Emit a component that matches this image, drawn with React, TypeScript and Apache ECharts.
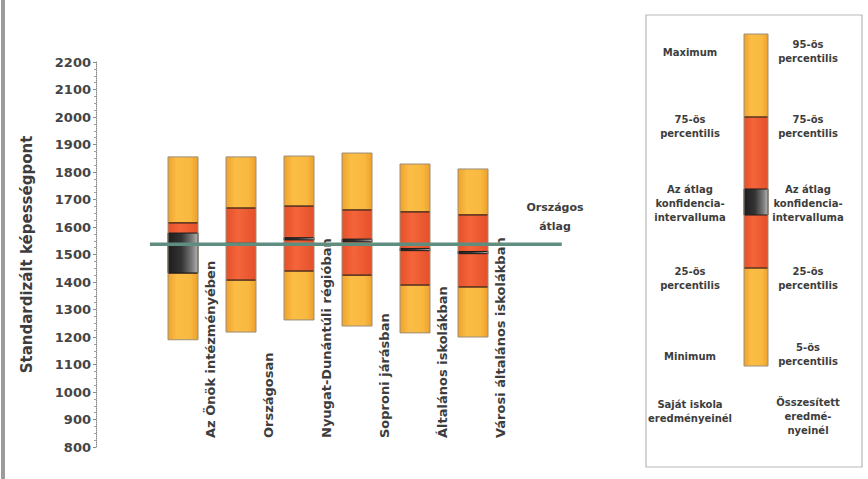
import React, { useEffect, useRef } from "react";
import * as echarts from "echarts";

// ---- data ----
const categories = [
  "Az Önök intézményében",
  "Országosan",
  "Nyugat-Dunántúli régióban",
  "Soproni járásban",
  "Általános iskolákban",
  "Városi általános iskolákban",
];
const lowValues = [1190, 1218, 1262, 1240, 1215, 1200]; // minimum / 5th percentile
const q1Values = [1433, 1407, 1440, 1425, 1389, 1382]; // 25th percentile
const q3Values = [1615, 1669, 1676, 1662, 1655, 1644]; // 75th percentile
const highValues = [1855, 1855, 1858, 1869, 1829, 1811]; // maximum / 95th percentile
const ciLowValues = [1433, 1533, 1553, 1546, 1514, 1503];
const ciHighValues = [1578, 1541, 1561, 1556, 1522, 1511];
const nationalAverage = 1537;
const averageLabel = "Országos\nátlag";
const yAxisName = "Standardizált képességpont";
const legendLeftLabels = [
  "Maximum",
  "75-ös\npercentilis",
  "Az átlag\nkonfidencia-\nintervalluma",
  "25-ös\npercentilis",
  "Minimum",
  "Saját iskola\neredményeinél",
];
const legendRightLabels = [
  "95-ös\npercentilis",
  "75-ös\npercentilis",
  "Az átlag\nkonfidencia-\nintervalluma",
  "25-ös\npercentilis",
  "5-ös\npercentilis",
  "Összesített\neredmé-\nnyeinél",
];

// ---- layout / style ----
const Y_MIN = 800;
const Y_MAX = 2200;
const FONT = "DejaVu Sans";
const TEXT_COLOR = "#3d3d3d";
const LINE_FROM = -0.57;
const LINE_TO = 6.53;
const BAR_W = 30;

const yellowGrad = () =>
  new echarts.graphic.LinearGradient(0, 0, 1, 0, [
    { offset: 0, color: "#efa22c" },
    { offset: 0.3, color: "#fbbd46" },
    { offset: 0.75, color: "#f9b940" },
    { offset: 1, color: "#eda02a" },
  ]);
const redGrad = () =>
  new echarts.graphic.LinearGradient(0, 0, 1, 0, [
    { offset: 0, color: "#e6502a" },
    { offset: 0.4, color: "#f4653a" },
    { offset: 1, color: "#e4502b" },
  ]);
const ciGrad = () =>
  new echarts.graphic.LinearGradient(0, 0, 1, 0, [
    { offset: 0, color: "#1e1e1e" },
    { offset: 0.45, color: "#333333" },
    { offset: 0.8, color: "#7a7a7a" },
    { offset: 1, color: "#b5b5b5" },
  ]);

export default function App() {
  const ref = useRef<HTMLDivElement>(null);

  useEffect(() => {
    if (!ref.current) return;
    const chart = echarts.init(ref.current, null, { renderer: "svg" });

    const boxData = categories.map((_, i) => [
      i,
      lowValues[i],
      q1Values[i],
      q3Values[i],
      highValues[i],
      ciLowValues[i],
      ciHighValues[i],
    ]);

    const renderItem = (params: any, api: any) => {
      const i = params.dataIndex;
      const x = api.value(0);
      const pLo = api.coord([x, api.value(1)]);
      const pQ1 = api.coord([x, api.value(2)]);
      const pQ3 = api.coord([x, api.value(3)]);
      const pHi = api.coord([x, api.value(4)]);
      const pCl = api.coord([x, api.value(5)]);
      const pCh = api.coord([x, api.value(6)]);
      const pBase = api.coord([x, Y_MIN]);
      const left = pLo[0] - BAR_W / 2;
      const ciH = Math.max(2, pCl[1] - pCh[1]);
      return {
        type: "group",
        children: [
          { type: "rect", shape: { x: left, y: pQ1[1], width: BAR_W, height: pLo[1] - pQ1[1] }, style: { fill: yellowGrad() } },
          { type: "rect", shape: { x: left, y: pQ3[1], width: BAR_W, height: pQ1[1] - pQ3[1] }, style: { fill: redGrad() } },
          { type: "rect", shape: { x: left, y: pHi[1], width: BAR_W, height: pQ3[1] - pHi[1] }, style: { fill: yellowGrad() } },
          { type: "line", shape: { x1: left, y1: pQ3[1], x2: left + BAR_W, y2: pQ3[1] }, style: { stroke: "#5a3420", lineWidth: 1.6 } },
          { type: "line", shape: { x1: left, y1: pQ1[1], x2: left + BAR_W, y2: pQ1[1] }, style: { stroke: "#5a3420", lineWidth: 1.6 } },
          { type: "rect", shape: { x: left, y: pCh[1], width: BAR_W, height: ciH }, style: { fill: ciGrad(), stroke: "#1c1c1c", lineWidth: 1 } },
          { type: "rect", shape: { x: left, y: pHi[1], width: BAR_W, height: pLo[1] - pHi[1] }, style: { fill: "none", stroke: "#9a8e78", lineWidth: 1 } },
          {
            type: "text",
            x: pBase[0] + 27,
            y: pBase[1] - 9,
            rotation: Math.PI / 2,
            style: {
              text: categories[i],
              fill: TEXT_COLOR,
              fontFamily: FONT,
              fontWeight: "bold",
              fontSize: 13,
              align: "left",
              verticalAlign: "middle",
            },
          },
        ],
      };
    };

    // legend graphics
    const LX = 744;
    const LW = 24;
    const legendY = [34, 117, 189, 215, 268, 366];
    const legendLeftY = [52, 126, 203, 278, 356, 411];
    const legendRightY = [51, 126, 203, 278, 354, 416];
    const legendTexts: any[] = [];
    legendLeftLabels.forEach((t, k) =>
      legendTexts.push({
        type: "text",
        x: 690,
        y: legendLeftY[k],
        style: { text: t, fill: TEXT_COLOR, fontFamily: FONT, fontWeight: "bold", fontSize: 10, lineHeight: 14, align: "center", verticalAlign: "middle" },
      })
    );
    legendRightLabels.forEach((t, k) =>
      legendTexts.push({
        type: "text",
        x: 808,
        y: legendRightY[k],
        style: { text: t, fill: TEXT_COLOR, fontFamily: FONT, fontWeight: "bold", fontSize: 10, lineHeight: 14, align: "center", verticalAlign: "middle" },
      })
    );

    const option: any = {
      animation: false,
      backgroundColor: "#ffffff",
      grid: { left: 96, top: 62, width: 493, height: 385, containLabel: false },
      xAxis: {
        type: "value",
        min: -1.5,
        max: 7,
        show: false,
        splitLine: { show: false },
      },
      yAxis: {
        type: "value",
        min: Y_MIN,
        max: Y_MAX,
        interval: 100,
        name: yAxisName,
        nameLocation: "middle",
        nameGap: 62,
        nameRotate: 90,
        nameTextStyle: { fontFamily: FONT, fontWeight: "bold", fontSize: 15, color: TEXT_COLOR },
        axisLine: { show: true, onZero: false, lineStyle: { color: "#8a8a8a", type: "dotted", width: 1 } },
        axisTick: { show: true, length: 3, lineStyle: { color: "#8a8a8a" } },
        minorTick: { show: true, splitNumber: 4, length: 2, lineStyle: { color: "#a0a0a0" } },
        splitLine: { show: false },
        axisLabel: {
          margin: 5,
          fontFamily: FONT,
          fontWeight: "bold",
          fontSize: 13,
          color: "#454545",
          formatter: (v: number) => String(v),
        },
      },
      series: [
        {
          type: "custom",
          renderItem,
          data: boxData,
          encode: { x: 0, y: [1, 4] },
          z: 2,
          clip: false,
        },
        {
          type: "line",
          data: [
            [LINE_FROM, nationalAverage],
            [LINE_TO, nationalAverage],
          ],
          symbol: "none",
          lineStyle: { color: "#5f8e80", width: 3.5 },
          z: 5,
        },
      ],
      graphic: [
        { type: "rect", shape: { x: 1, y: 0, width: 4, height: 479 }, style: { fill: "#9c9c9c" } },
        {
          type: "text",
          x: 555,
          y: 217,
          style: { text: averageLabel, fill: TEXT_COLOR, fontFamily: FONT, fontWeight: "bold", fontSize: 11, lineHeight: 19, align: "center", verticalAlign: "middle" },
        },
        { type: "rect", shape: { x: 646, y: 15, width: 216, height: 452 }, style: { fill: "#ffffff", stroke: "#b8b8b8", lineWidth: 1.2 } },
        { type: "rect", shape: { x: LX, y: legendY[0], width: LW, height: legendY[1] - legendY[0] }, style: { fill: yellowGrad() } },
        { type: "rect", shape: { x: LX, y: legendY[1], width: LW, height: legendY[4] - legendY[1] }, style: { fill: redGrad() } },
        { type: "rect", shape: { x: LX, y: legendY[4], width: LW, height: legendY[5] - legendY[4] }, style: { fill: yellowGrad() } },
        { type: "line", shape: { x1: LX, y1: legendY[1], x2: LX + LW, y2: legendY[1] }, style: { stroke: "#5a3420", lineWidth: 1.5 } },
        { type: "line", shape: { x1: LX, y1: legendY[4], x2: LX + LW, y2: legendY[4] }, style: { stroke: "#5a3420", lineWidth: 1.5 } },
        { type: "rect", shape: { x: LX, y: legendY[2], width: LW, height: legendY[3] - legendY[2] }, style: { fill: ciGrad(), stroke: "#1c1c1c", lineWidth: 1 } },
        { type: "rect", shape: { x: LX, y: legendY[0], width: LW, height: legendY[5] - legendY[0] }, style: { fill: "none", stroke: "#9a8e78", lineWidth: 1 } },
        ...legendTexts,
      ],
    };

    chart.setOption(option);
    return () => chart.dispose();
  }, []);

  return (
    <div
      ref={ref}
      style={{ position: "fixed", left: 0, top: 0, width: 868, height: 479, background: "#fff" }}
    />
  );
}
